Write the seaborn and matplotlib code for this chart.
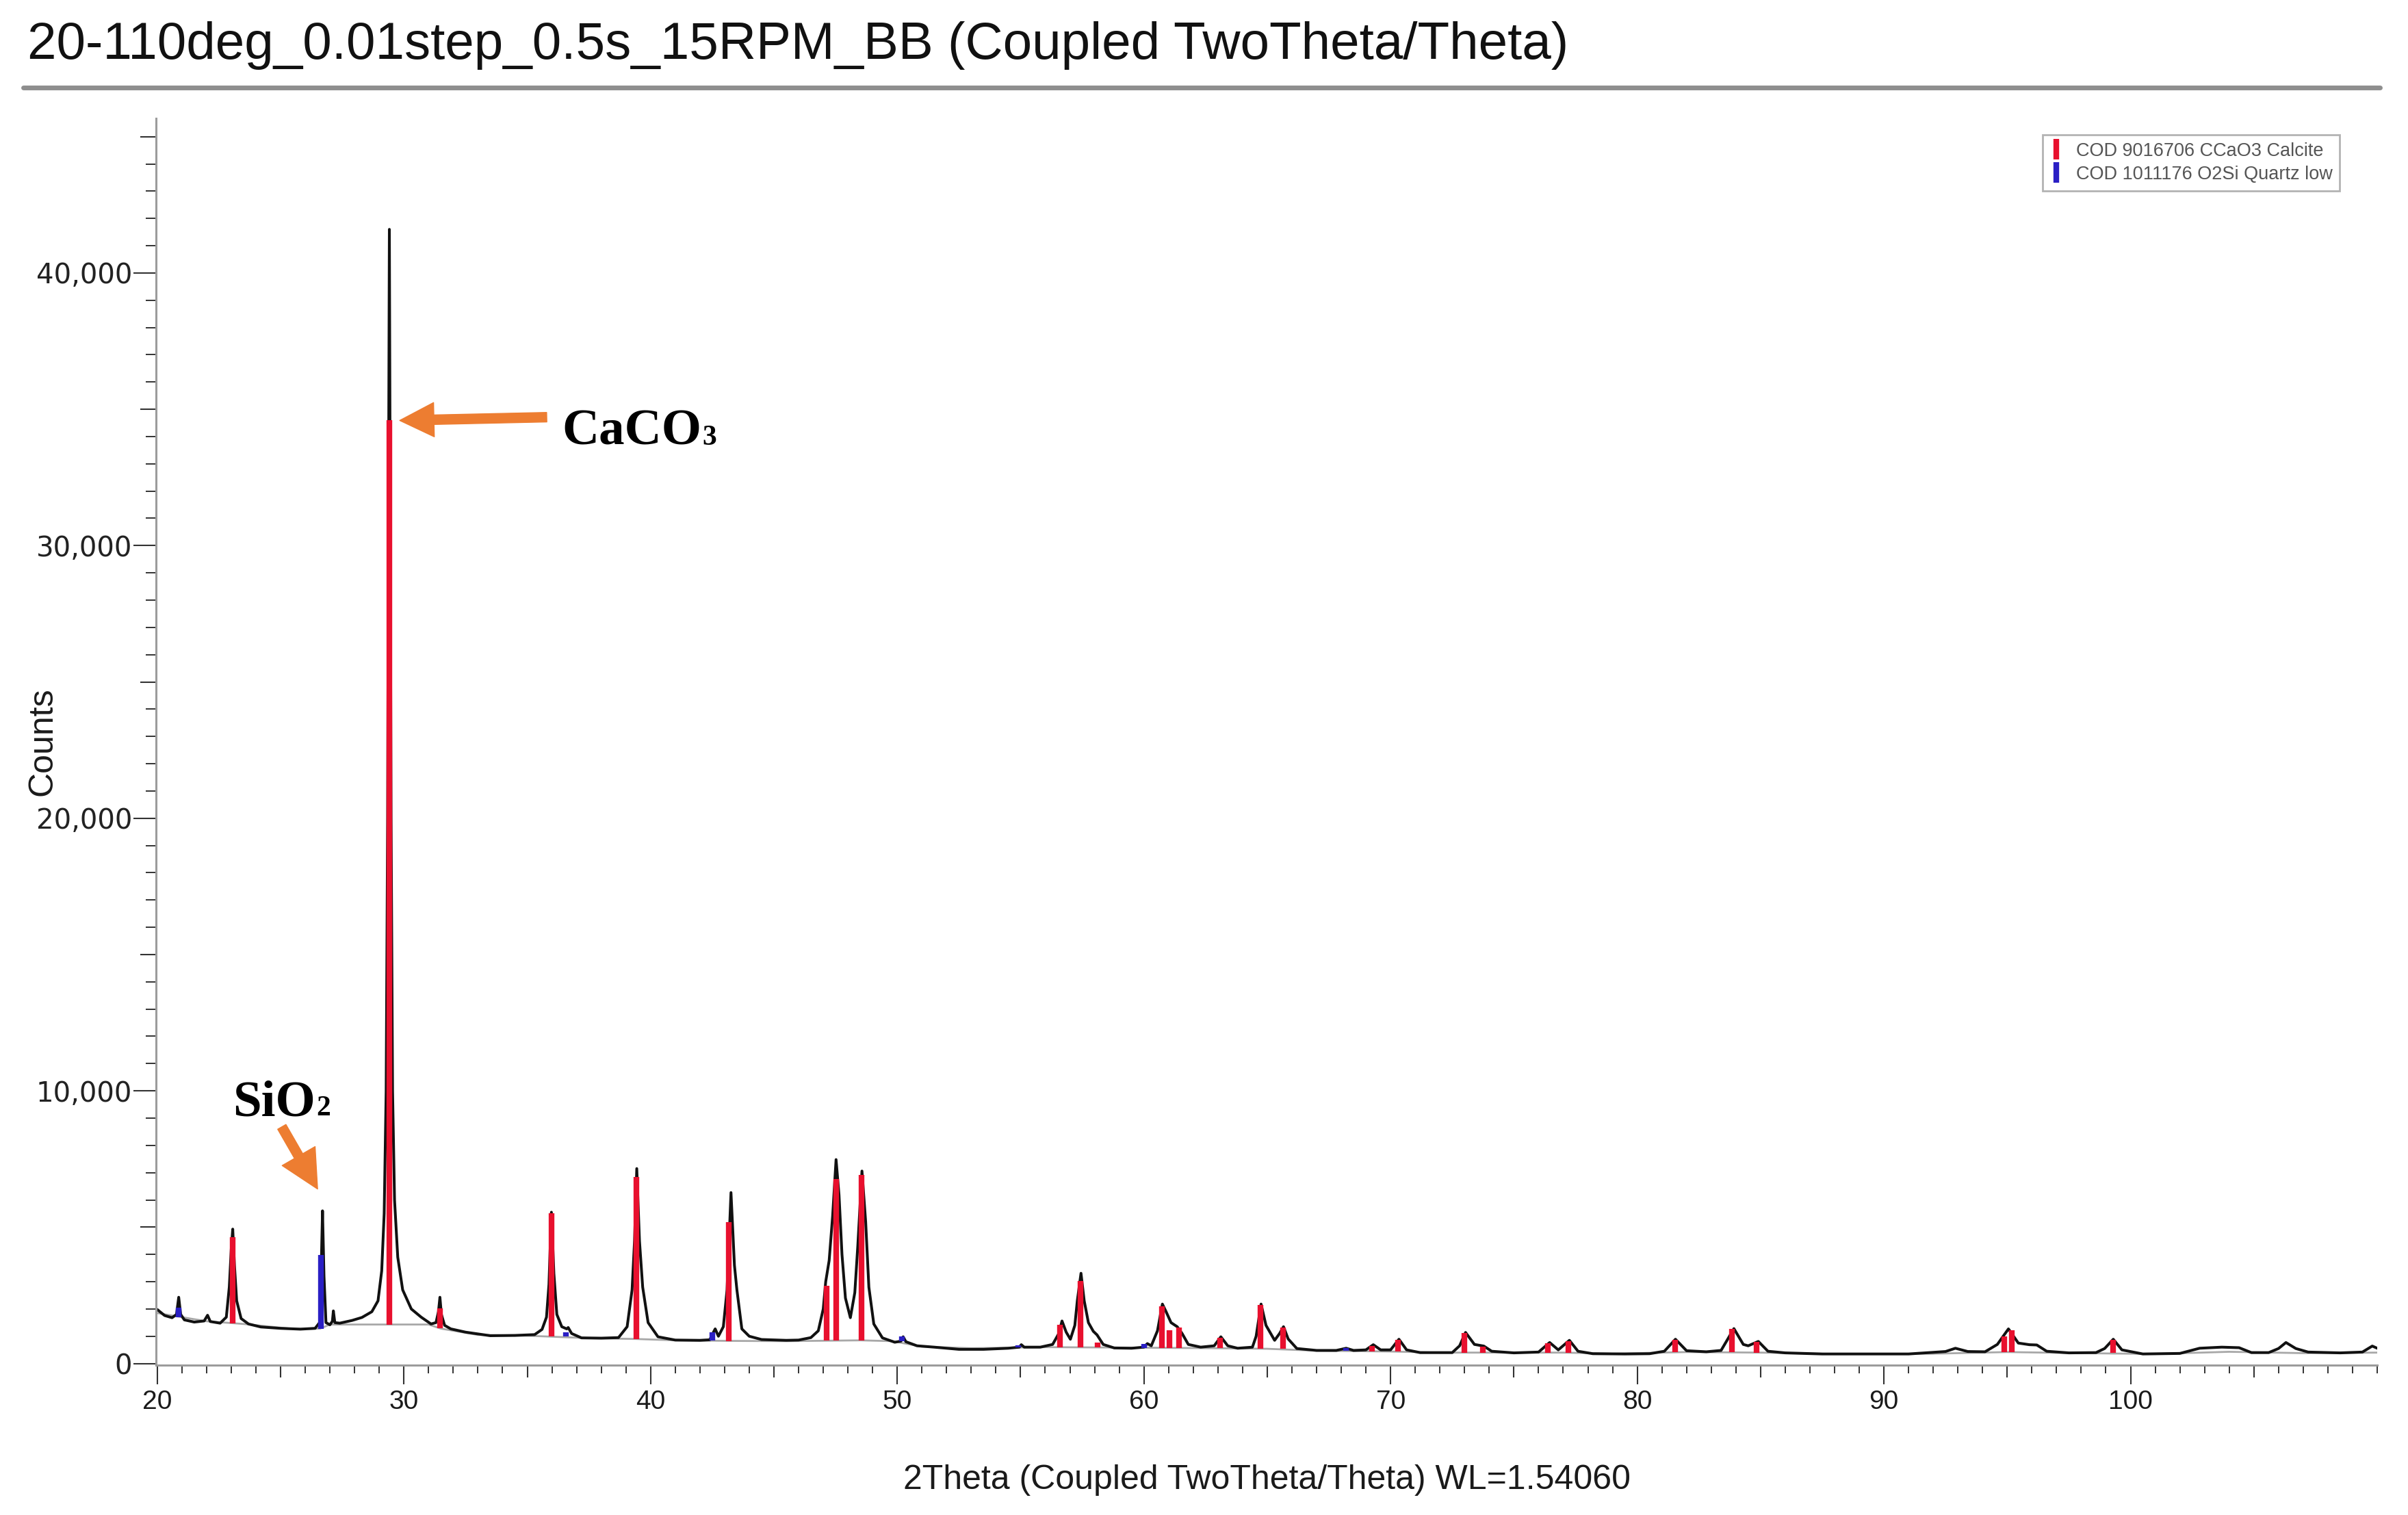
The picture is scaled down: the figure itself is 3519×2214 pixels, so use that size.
import numpy as np
import pandas as pd
import matplotlib
matplotlib.use("Agg")
import matplotlib.pyplot as plt
import seaborn as sns
from matplotlib.lines import Line2D
from matplotlib.ticker import MultipleLocator, FixedLocator, FuncFormatter, NullFormatter

# ---------------- data ----------------
two_theta = [
    20.00, 20.30, 20.60, 20.78, 20.87, 20.95, 21.10, 21.50, 21.90, 22.04, 22.15, 22.55, 22.80, 22.92,
    23.00, 23.06, 23.13, 23.22, 23.40, 23.70, 24.20, 25.00, 25.80, 26.40, 26.58, 26.66, 26.70, 26.76,
    26.84, 27.00, 27.10, 27.14, 27.20, 27.40, 27.90, 28.30, 28.70, 28.95, 29.10, 29.20, 29.28, 29.34,
    29.38, 29.41, 29.44, 29.48, 29.54, 29.62, 29.75, 29.95, 30.30, 30.70, 31.10, 31.30, 31.40, 31.46,
    31.52, 31.65, 31.90, 32.50, 33.50, 34.50, 35.30, 35.60, 35.78, 35.88, 35.98, 36.08, 36.20, 36.40,
    36.60, 36.66, 36.80, 37.20, 38.00, 38.70, 39.05, 39.25, 39.35, 39.44, 39.55, 39.68, 39.90, 40.30,
    41.00, 42.00, 42.40, 42.55, 42.62, 42.75, 42.95, 43.10, 43.26, 43.40, 43.50, 43.70, 44.00, 44.50,
    45.50, 46.00, 46.50, 46.80, 47.00, 47.10, 47.24, 47.38, 47.52, 47.64, 47.76, 47.90, 48.10, 48.28,
    48.40, 48.57, 48.72, 48.85, 49.05, 49.40, 49.90, 50.15, 50.24, 50.35, 50.80, 51.50, 52.50, 53.50,
    54.50, 54.95, 55.03, 55.15, 55.80, 56.30, 56.55, 56.68, 56.85, 57.02, 57.20, 57.30, 57.45, 57.58,
    57.75, 57.95, 58.10, 58.35, 58.80, 59.50, 60.00, 60.14, 60.30, 60.55, 60.75, 60.90, 61.10, 61.35,
    61.55, 61.80, 62.30, 62.85, 63.12, 63.40, 63.80, 64.40, 64.55, 64.75, 64.95, 65.30, 65.50, 65.66,
    65.85, 66.20, 67.00, 67.80, 68.20, 68.50, 69.00, 69.30, 69.60, 70.00, 70.34, 70.65, 71.20, 72.50,
    72.80, 73.04, 73.40, 73.78, 74.10, 75.00, 76.00, 76.45, 76.80, 77.25, 77.60, 78.20, 79.50, 80.50,
    81.10, 81.55, 82.00, 82.80, 83.40, 83.92, 84.30, 84.50, 84.91, 85.30, 86.00, 87.50, 91.00, 92.50,
    92.90, 93.40, 94.10, 94.60, 95.05, 95.45, 95.90, 96.20, 96.60, 97.50, 98.60, 98.95, 99.30, 99.65,
    100.50, 102.00, 102.80, 103.70, 104.40, 104.90, 105.60, 106.00, 106.30, 106.70, 107.20, 108.50,
    109.40, 109.80, 110.00,
]
counts = [
    1980, 1760, 1680, 1800, 2430, 1800, 1600, 1520, 1560, 1770, 1540, 1480, 1700, 2800,
    4200, 4930, 3600, 2300, 1650, 1450, 1340, 1290, 1260, 1290, 1500, 4000, 5600, 3200,
    1500, 1420, 1550, 1930, 1500, 1480, 1580, 1690, 1900, 2300, 3400, 5500, 10000, 20000,
    33000, 41600, 33000, 20000, 10000, 6000, 3900, 2700, 2000, 1700, 1450, 1500, 1900, 2430,
    1800, 1400, 1270, 1150, 1020, 1030, 1060, 1250, 1700, 2900, 5550, 3300, 1800, 1350,
    1270, 1320, 1100, 940, 930, 950, 1350, 2700, 4500, 7150, 4500, 2800, 1500, 980,
    860, 850, 870, 1150, 1270, 1000, 1350, 2700, 6270, 3600, 2700, 1270, 1000, 880,
    850, 860, 950, 1200, 2000, 3000, 3780, 5400, 7480, 6180, 4000, 2400, 1680, 2600,
    4300, 7060, 5200, 2800, 1450, 940, 780, 820, 980, 800, 650, 600, 520, 520,
    560, 600, 690, 600, 600, 700, 1100, 1560, 1150, 890, 1400, 2300, 3310, 2300,
    1500, 1180, 1050, 700, 570, 560, 600, 730, 650, 1200, 2180, 1900, 1500, 1350,
    1100, 700, 600, 650, 980, 650, 560, 600, 1000, 2180, 1400, 850, 1100, 1350,
    900, 550, 480, 480, 560, 480, 500, 690, 500, 500, 890, 500, 400, 400,
    650, 1140, 700, 640, 450, 390, 420, 770, 500, 850, 450, 360, 350, 360,
    450, 890, 470, 430, 480, 1280, 700, 650, 810, 450, 390, 350, 350, 440,
    560, 440, 430, 700, 1270, 750, 690, 680, 450, 390, 400, 550, 890, 500,
    350, 370, 560, 600, 580, 400, 400, 550, 770, 550, 420, 390,
    420, 640, 560,
]

# fitted background (grey line)
bg_theta = [20.0, 22.0, 23.5, 25.5, 26.6, 27.0, 31.0, 31.5, 33.0, 35.0, 37.5, 39.4, 41.0, 43.2,
            45.5, 48.5, 49.8, 51.0, 53.0, 56.0, 60.0, 63.0, 65.0, 67.0, 70.0, 72.0, 77.0, 79.0,
            82.0, 85.0, 88.0, 92.0, 95.0, 98.0, 101.0, 104.0, 107.0, 110.0]
bg_counts = [1850, 1550, 1450, 1270, 1280, 1430, 1430, 1280, 1050, 1020, 930, 900, 850, 830,
             820, 850, 820, 620, 560, 600, 580, 560, 540, 470, 440, 400, 400, 360,
             420, 400, 350, 360, 420, 380, 350, 430, 380, 400]

# COD 9016706 CCaO3 Calcite reference sticks
calcite_pos = [23.05, 29.40, 31.45, 35.98, 39.43, 43.17, 47.14, 47.52, 48.54, 56.60, 57.44, 58.12,
               60.72, 61.03, 61.42, 63.10, 64.72, 65.63, 69.25, 70.30, 72.98, 73.75, 76.38, 77.20,
               81.55, 83.85, 84.85, 94.88, 95.18, 99.30]
calcite_top = [4640, 34600, 2020, 5520, 6850, 5180, 2850, 6770, 6930, 1430, 3020, 770,
               2100, 1230, 1310, 950, 2150, 1330, 650, 870, 1120, 620, 750, 830,
               870, 1270, 800, 1000, 1230, 870]
calcite_base = [1480, 1430, 1300, 1000, 900, 830, 840, 840, 850, 600, 600, 600,
                580, 580, 580, 560, 540, 540, 450, 440, 400, 400, 400, 400,
                420, 420, 400, 420, 420, 380]

# COD 1011176 O2Si Quartz low reference sticks
quartz_pos = [20.86, 26.64, 36.58, 42.50, 50.18, 54.90, 60.00, 68.18]
quartz_top = [2060, 3980, 1150, 1150, 1000, 680, 720, 560]
quartz_base = [1700, 1280, 1000, 840, 820, 590, 580, 460]

legend_labels = ["COD 9016706 CCaO3 Calcite", "COD 1011176 O2Si Quartz low"]
title = "20-110deg_0.01step_0.5s_15RPM_BB (Coupled TwoTheta/Theta)"
xlabel = "2Theta (Coupled TwoTheta/Theta) WL=1.54060"
ylabel = "Counts"
x_major = [20, 30, 40, 50, 60, 70, 80, 90, 100]
x_mid = [25, 35, 45, 55, 65, 75, 85, 95, 105]
y_major = [0, 10000, 20000, 30000, 40000]
y_mid = [5000, 15000, 25000, 35000, 45000]

# ---------------- styling ----------------
RED = "#E8102E"
BLUE = "#2A1FC4"
ORANGE = "#ED7D31"
TICKC = "#333333"
SPINEC = "#9c9c9c"

sns.set_theme(style="white")
plt.rcParams["font.family"] = ["Liberation Sans", "DejaVu Sans"]

W, H = 3519, 2214
fig = plt.figure(figsize=(W / 100, H / 100), dpi=100)
fig.patch.set_facecolor("white")

axL, axR, axT, axB = 228, 3474, 173, 1995
ax = fig.add_axes([axL / W, 1 - axB / H, (axR - axL) / W, (axB - axT) / H])
ax.set_facecolor("white")

df = pd.DataFrame({"two_theta": two_theta, "counts": counts})
bg = pd.DataFrame({"two_theta": bg_theta, "counts": bg_counts})

sns.lineplot(data=bg, x="two_theta", y="counts", ax=ax, color="#a8a8a8", lw=2.0,
             sort=False, estimator=None, zorder=1)
sns.lineplot(data=df, x="two_theta", y="counts", ax=ax, color="#111111", lw=2.9,
             sort=False, estimator=None, zorder=2)
ax.vlines(calcite_pos, calcite_base, calcite_top, color=RED, lw=6.0, zorder=3)
ax.vlines(quartz_pos, quartz_base, quartz_top, color=BLUE, lw=6.0, zorder=3)

ax.set_xlim(19.95, 110.0)
ax.set_ylim(-60, 45670)

for s in ["top", "right"]:
    ax.spines[s].set_visible(False)
for s in ["left", "bottom"]:
    ax.spines[s].set_color(SPINEC)
    ax.spines[s].set_linewidth(2.2)

ax.xaxis.set_major_locator(FixedLocator(x_major))
ax.xaxis.set_minor_locator(MultipleLocator(1))
ax.yaxis.set_major_locator(FixedLocator(y_major))
ax.yaxis.set_minor_locator(MultipleLocator(1000))
ax.yaxis.set_major_formatter(FuncFormatter(lambda v, p: f"{int(v):,}"))

ax.tick_params(axis="x", which="major", direction="out", length=20, width=1.5, color=TICKC,
               labelsize=28, labelcolor="#1a1a1a", pad=6, bottom=True)
ax.tick_params(axis="x", which="minor", direction="out", length=8.5, width=1.4, color=TICKC, bottom=True)
ax.tick_params(axis="y", which="major", direction="out", length=24, width=1.5, color=TICKC,
               labelsize=29, labelcolor="#222222", pad=1, left=True)
ax.tick_params(axis="y", which="minor", direction="out", length=11, width=1.4, color=TICKC, left=True)
for lab in ax.get_yticklabels():
    lab.set_fontfamily("DejaVu Sans")

secx = ax.secondary_xaxis("bottom")
secx.set_xticks(x_mid)
secx.tick_params(axis="x", direction="out", length=13, width=1.5, color=TICKC, labelbottom=False)
secx.xaxis.set_major_formatter(NullFormatter())
secx.spines["bottom"].set_visible(False)

secy = ax.secondary_yaxis("left")
secy.set_yticks(y_mid)
secy.tick_params(axis="y", direction="out", length=16.5, width=1.5, color=TICKC, labelleft=False)
secy.yaxis.set_major_formatter(NullFormatter())
secy.spines["left"].set_visible(False)

ax.set_xlabel(xlabel, fontsize=36, color="#1a1a1a")
ax.set_ylabel(ylabel, fontsize=36, color="#1a1a1a")
ax.xaxis.set_label_coords(0.5, (axB - 2140) / (axB - axT))
ax.yaxis.set_label_coords((86 - axL) / (axR - axL), 0.5)

# title + rule
fig.text(40 / W, 1 - 67 / H, title, fontsize=55, ha="left", va="center", color="#111111")
fig.add_artist(Line2D([34 / W, 3478 / W], [1 - 128 / H, 1 - 128 / H], transform=fig.transFigure,
                      color="#8e8e8e", lw=5))

# legend
handles = [Line2D([], [], color=RED, marker="|", ls="None", ms=22, mew=6),
           Line2D([], [], color=BLUE, marker="|", ls="None", ms=22, mew=6)]
leg = ax.legend(handles, legend_labels, loc="upper left", bbox_to_anchor=(2985 / W, 1 - 197 / H),
                bbox_transform=fig.transFigure, frameon=True, fancybox=False, fontsize=19.5,
                borderpad=0.4, labelspacing=0.3, handlelength=0.7, handletextpad=0.7,
                borderaxespad=0)
leg.get_frame().set_edgecolor("#a0a0a0")
leg.get_frame().set_linewidth(2.0)
for t in leg.get_texts():
    t.set_color("#555555")

# annotations
arrow_style = "simple,head_length=36,head_width=36,tail_width=10"
ax.annotate("", xy=(29.83, 34590), xytext=(35.79, 34710),
            arrowprops=dict(arrowstyle=arrow_style, mutation_scale=1, color=ORANGE,
                            shrinkA=0, shrinkB=0), zorder=5)
ax.annotate("", xy=(26.50, 6400), xytext=(25.05, 8680),
            arrowprops=dict(arrowstyle="simple,head_length=40,head_width=40,tail_width=10",
                            mutation_scale=1, color=ORANGE, shrinkA=0, shrinkB=0), zorder=5)

serif = ["Liberation Serif", "DejaVu Serif"]
t1 = ax.text(36.40, 33710, "CaCO", fontsize=54, fontweight="bold", family=serif,
             ha="left", va="baseline", color="black", zorder=6)
t2 = ax.text(23.06, 9090, "SiO", fontsize=54, fontweight="bold", family=serif,
             ha="left", va="baseline", color="black", zorder=6)

fig.canvas.draw()
r = fig.canvas.get_renderer()
inv = ax.transData.inverted()
for t, sub, ybase in [(t1, "3", 33710), (t2, "2", 9090)]:
    bb = t.get_window_extent(r)
    xd = inv.transform((bb.x1 + 1, bb.y0))[0]
    ax.text(xd, ybase, sub, fontsize=30, fontweight="bold", family=serif,
            ha="left", va="baseline", color="black", zorder=6)

fig.savefig("out.png", dpi=100, facecolor="white")
